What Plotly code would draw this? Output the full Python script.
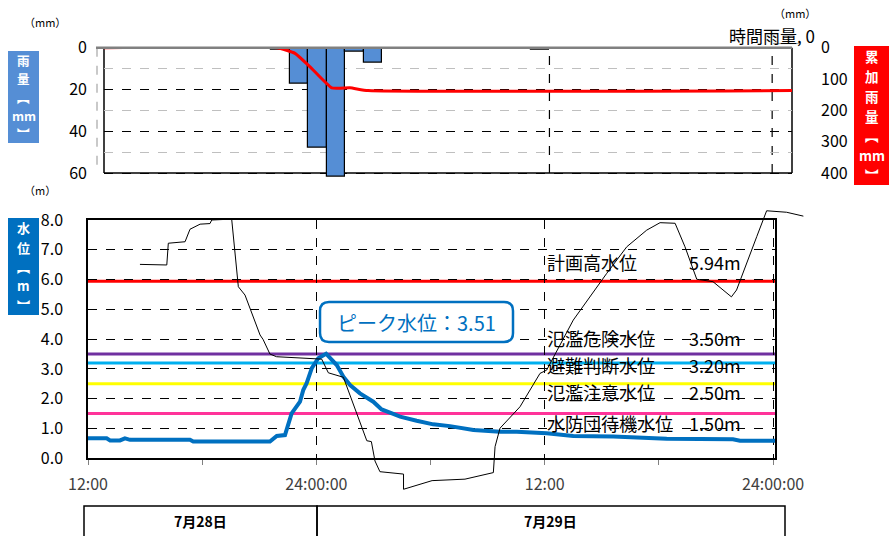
import plotly.graph_objects as go

W, H = 889, 536

# ---------------- data ----------------
# hours after 7/28 12:00
rain_hours = [9.5, 10.5, 11.5, 12.5, 13.5, 14.5, 23.5]
rain_mm = [1, 17, 48, 62, 2, 7, 1]

cum_hours = [0, 9.31, 10.29, 11.10, 12.27, 13.25, 14.22, 37.07]
cum_mm = [0, 0, 18, 61, 128, 128, 137, 137]

level_hours = [0.0, 0.98, 1.16, 1.68, 1.94, 2.21, 5.36, 5.53, 9.56, 9.92, 10.35, 10.70,
               11.14, 11.31, 11.49, 11.76, 12.10, 12.51, 13.07, 13.42, 13.77, 14.29,
               14.99, 15.43, 16.04, 16.40, 17.27, 18.14, 19.02, 20.25, 21.65, 22.53,
               24.10, 25.50, 27.60, 30.41, 33.89, 34.26, 36.10]
level_m = [0.67, 0.67, 0.60, 0.60, 0.67, 0.62, 0.62, 0.56, 0.56, 0.75, 0.78, 1.51,
           1.90, 2.29, 2.52, 3.03, 3.36, 3.51, 3.13, 2.74, 2.46, 2.18,
           1.90, 1.64, 1.49, 1.40, 1.26, 1.14, 1.08, 0.95, 0.89, 0.89,
           0.84, 0.75, 0.73, 0.66, 0.64, 0.59, 0.59]

other_hours = [2.73, 4.14, 4.22, 5.10, 5.36, 5.89, 6.41, 6.50, 7.55, 7.90, 8.25, 9.04,
               9.20, 9.56, 9.91, 12.28, 12.63, 13.42, 14.65, 14.89, 15.08, 15.34, 16.58,
               16.58, 18.08, 19.81, 21.30, 21.39, 21.65, 22.70, 23.75, 24.10, 25.50,
               27.26, 28.31, 29.36, 30.06, 30.85, 31.37, 31.99, 32.84, 33.47, 33.81,
               34.08, 34.70, 35.14, 35.66, 36.71, 37.59]
other_m = [6.51, 6.49, 7.22, 7.27, 7.69, 7.86, 7.88, 8.00, 8.03, 5.76, 5.48, 4.14,
           3.99, 3.50, 3.41, 3.33, 2.87, 2.72, 0.59, 0.56, -0.09, -0.45, -0.53,
           -1.04, -0.75, -0.70, -0.48, 0.39, 1.01, 1.73, 2.85, 2.96, 4.64,
           6.21, 7.10, 7.66, 7.91, 7.89, 7.10, 6.01, 5.93, 5.59, 5.42,
           5.65, 6.66, 7.44, 8.31, 8.26, 8.13]

thr_names = ["計画高水位", "氾濫危険水位", "避難判断水位", "氾濫注意水位", "水防団待機水位"]
thr_values = [5.94, 3.50, 3.20, 2.50, 1.50]
thr_colors = ["#FF0000", "#7030A0", "#00B0F0", "#FFFF00", "#FF3399"]
peak_value = 3.51

rain_ticks = [0, 20, 40, 60]
cum_ticks = [0, 100, 200, 300, 400]
x_tickvals = [0, 12, 24, 36]
x_ticktext = ["12:00", "24:00:00", "12:00", "24:00:00"]
date_labels = ["7月28日", "7月29日"]

# ---------------- layout helpers ----------------
def px(x):
    return x / W

def py(y):
    return 1 - y / H

FONT = "Noto Sans CJK JP"

# top plot pixel geometry
T_L, T_R, T_T, T_B = 104, 792, 47.7, 173
T_PPH = 18.56
T_EXT = 185  # extended bottom so the largest bar can run past the frame
T_K = (T_EXT - T_T) / (T_B - T_T)
# bottom plot pixel geometry
B_L, B_R, B_T, B_B = 88, 775, 220, 458.3
B_PPH = (B_R - B_L) / 36.1
B_PPM = (B_B - B_T) / 8.0

fig = go.Figure()

fig.add_trace(go.Bar(x=rain_hours, y=rain_mm, width=1.0, xaxis="x", yaxis="y",
                     marker=dict(color="#558ED5", line=dict(color="#000000", width=1.2)),
                     showlegend=False))
fig.add_trace(go.Scatter(x=cum_hours, y=cum_mm, xaxis="x", yaxis="y2", mode="lines",
                         line=dict(color="#FF0000", width=3, shape="spline", smoothing=0.4),
                         showlegend=False))
fig.add_trace(go.Scatter(x=other_hours, y=other_m, xaxis="x4", yaxis="y4", mode="lines",
                         line=dict(color="#000000", width=1), showlegend=False))
fig.add_trace(go.Scatter(x=level_hours, y=level_m, xaxis="x3", yaxis="y3", mode="lines",
                         line=dict(color="#0070C0", width=4), showlegend=False))

shapes = []
for v, c in zip(thr_values, thr_colors):
    shapes.append(dict(type="line", xref="x3 domain", yref="y3", x0=0, x1=1, y0=v, y1=v,
                       line=dict(color=c, width=3), layer="below"))
# top chart frame
for (xa, ya, xb, yb) in [(T_L, T_B, T_R, T_B), (T_L, T_T, T_L, T_B), (T_R, T_T, T_R, T_B)]:
    shapes.append(dict(type="line", xref="paper", yref="paper", x0=px(xa), x1=px(xb),
                       y0=py(ya), y1=py(yb), line=dict(color="#000000", width=1.5), layer="below"))
shapes.append(dict(type="line", xref="paper", yref="paper", x0=px(97), x1=px(97),
                   y0=py(T_T), y1=py(T_B), line=dict(color="#A6A6A6", width=1.2, dash="dash")))
shapes.append(dict(type="line", xref="paper", yref="paper", x0=px(96), x1=px(T_R),
                   y0=py(T_T), y1=py(T_T), line=dict(color="#808080", width=2.5)))
shapes.append(dict(type="line", xref="paper", yref="paper", x0=px(773), x1=px(800),
                   y0=py(43.5), y1=py(43.5), line=dict(color="#A6A6A6", width=1.2)))
for t in [24, 36]:
    shapes.append(dict(type="line", xref="x", yref="paper", x0=t, x1=t, y0=py(T_B), y1=py(T_T),
                       line=dict(color="#000000", width=1.2, dash="dash"), layer="below"))

def rrect(x0, y0, x1, y1, r):
    pts = [("M", [(x0 + r, y0)]), ("L", [(x1 - r, y0)]), ("Q", [(x1, y0), (x1, y0 + r)]),
           ("L", [(x1, y1 - r)]), ("Q", [(x1, y1), (x1 - r, y1)]), ("L", [(x0 + r, y1)]),
           ("Q", [(x0, y1), (x0, y1 - r)]), ("L", [(x0, y0 + r)]), ("Q", [(x0, y0), (x0 + r, y0)])]
    s = ""
    for cmd, ps in pts:
        s += cmd + " " + " ".join(f"{px(a):.5f},{py(b):.5f}" for a, b in ps) + " "
    return s + "Z"

shapes.append(dict(type="path", xref="paper", yref="paper", path=rrect(320, 302, 513, 342, 9),
                   line=dict(color="#0070C0", width=2.5), fillcolor="#FFFFFF", layer="above"))
shapes.append(dict(type="rect", xref="paper", yref="paper", x0=px(84), x1=px(317),
                   y0=py(540), y1=py(506), line=dict(color="#000000", width=1.5)))
shapes.append(dict(type="rect", xref="paper", yref="paper", x0=px(317), x1=px(785),
                   y0=py(540), y1=py(506), line=dict(color="#000000", width=1.5)))

ann = []
def text(x, y, s, size=16, color="#000000", xanchor="left", weight="normal"):
    ann.append(dict(x=px(x), y=py(y), xref="paper", yref="paper", text=s, showarrow=False,
                    xanchor=xanchor, yanchor="middle", borderpad=0,
                    font=dict(family=FONT, size=size, color=color, weight=weight)))

label_y = [262, 338, 365, 392, 423]
for name, v, yy in zip(thr_names, thr_values, label_y):
    text(546, yy, name, size=18)
    text(688, yy, f"{v:.2f}m", size=18)

text(416, 322, f"ピーク水位：{peak_value}", size=20, color="#0070C0", xanchor="center")
text(45, 22, "（mm）", size=11, xanchor="center")
text(40, 190, "（m）", size=11, xanchor="center")
text(795, 13, "（mm）", size=11, xanchor="center")
text(816, 35, "時間雨量, 0", size=17, xanchor="right")
text(200, 521, date_labels[0], size=14, xanchor="center", weight="bold")
text(550, 521, date_labels[1], size=14, xanchor="center", weight="bold")

# vertical label boxes: coloured rectangle + one glyph per slot
def vbox(x0, y0, x1, y1, chars, bg, size):
    shapes.append(dict(type="rect", xref="paper", yref="paper", x0=px(x0), x1=px(x1),
                       y0=py(y1), y1=py(y0), line=dict(width=0), fillcolor=bg))
    step = (y1 - y0) / len(chars)
    for i, ch in enumerate(chars):
        text((x0 + x1) / 2, y0 + step * (i + 0.5), ch, size=size, color="#FFFFFF",
             xanchor="center", weight="bold")

vbox(8, 51, 39, 143, ["雨", "量", "︻", "mm", "︼"], "#558ED5", 12.5)
vbox(854, 46, 889, 185, ["累", "加", "雨", "量", "︻", "mm", "︼"], "#FF0000", 13.5)
vbox(8, 218, 39, 315, ["水", "位", "︻", "m", "︼"], "#0070C0", 13)

tickfont = dict(family=FONT, size=16, color="#000000")

fig.update_layout(
    template="none",
    width=W, height=H, autosize=False, margin=dict(l=0, r=0, t=0, b=0, pad=0),
    plot_bgcolor="rgba(0,0,0,0)", paper_bgcolor="#FFFFFF", bargap=0, showlegend=False,
    shapes=shapes, annotations=ann,
    xaxis=dict(domain=[px(T_L), px(T_R)], range=[0, (T_R - T_L) / T_PPH], anchor="y",
               showline=False, showgrid=False, showticklabels=False, automargin=False,
               zeroline=False, ticks=""),
    yaxis=dict(domain=[py(T_EXT), py(T_T)], range=[60 * T_K, 0], anchor="x",
               tickmode="array", tickvals=rain_ticks, automargin=False,
               showline=False, ticks="",
               showgrid=True, gridcolor="#000000", griddash="dash", gridwidth=1.2,
               minor=dict(tickvals=[10, 30, 50], showgrid=True, gridcolor="#BFBFBF",
                          griddash="dash", gridwidth=1.2),
               zeroline=False, tickfont=tickfont, ticklabelstandoff=16),
    yaxis2=dict(overlaying="y", side="right", anchor="x", range=[400 * T_K, 0],
                tickmode="array", tickvals=cum_ticks, automargin=False,
                showline=False, showgrid=False,
                zeroline=False, ticks="", tickfont=tickfont, ticklabelstandoff=28),
    xaxis3=dict(domain=[px(B_L), px(B_R)], range=[0, 36.1], anchor="y3", automargin=False,
                tickmode="array", tickvals=x_tickvals, ticktext=x_ticktext,
                ticks="outside", ticklen=5, tickcolor="#808080", ticklabelstandoff=6,
                minor=dict(dtick=6, ticks="outside", ticklen=5, tickcolor="#808080", showgrid=False),
                showline=True, mirror=True, linecolor="#000000", linewidth=1.5,
                showgrid=True, gridcolor="#000000", griddash="dash", gridwidth=1.2,
                zeroline=False, tickfont=dict(family=FONT, size=16, color="#404040")),
    yaxis3=dict(domain=[py(B_B), py(B_T)], range=[0, 8], anchor="x3", dtick=1, tickformat=".1f",
                automargin=False,
                showline=True, mirror=True, linecolor="#000000", linewidth=1.5,
                showgrid=True, gridcolor="#000000", griddash="dash", gridwidth=1.2,
                zeroline=False, ticks="", tickfont=tickfont, ticklabelstandoff=20),
    xaxis4=dict(domain=[px(B_L), px(840)], range=[0, (840 - B_L) / B_PPH], anchor="y4",
                visible=False, automargin=False),
    yaxis4=dict(domain=[py(500), py(195)], range=[(B_B - 500) / B_PPM, (B_B - 195) / B_PPM],
                anchor="x4", visible=False, automargin=False),
)

fig.write_html("out.html", config={"displayModeBar": False},
               post_script="document.body.style.margin='0';document.body.style.overflow='hidden';")
